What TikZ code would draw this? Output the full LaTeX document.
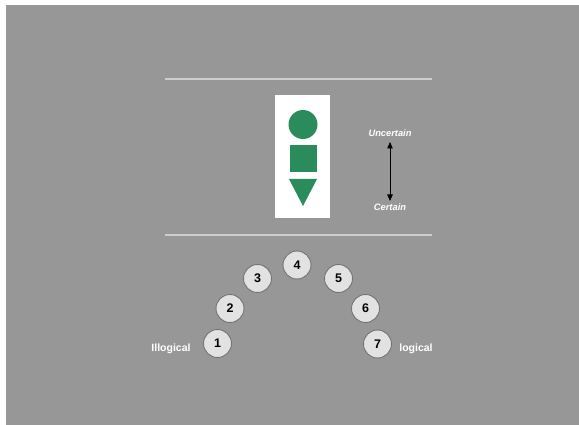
\documentclass[tikz,border=0pt]{standalone}
\usepackage{fontspec}
\setmainfont{Liberation Sans}
\usetikzlibrary{arrows.meta}
\definecolor{bggray}{RGB}{151,151,151}
\definecolor{rulegray}{RGB}{205,205,205}
\definecolor{shapegreen}{RGB}{42,140,90}
\definecolor{ballfill}{RGB}{226,226,226}
\definecolor{ballline}{RGB}{115,115,115}
\tikzset{
  ball/.style={circle,draw=ballline,line width=0.9pt,fill=ballfill,minimum size=28pt,inner sep=0pt,
    font=\fontsize{12.5}{13}\selectfont\bfseries,text=black},
  sidelabel/.style={font=\fontsize{10.5}{11}\selectfont\bfseries,text=white,inner sep=0pt},
  scalelabel/.style={font=\fontsize{9.3}{10}\selectfont\bfseries\itshape,text=white,inner sep=0pt},
  hrule/.style={draw=rulegray,line width=1.6pt},
  greenshape/.style={fill=shapegreen,draw=none}
}
\begin{document}
\begin{tikzpicture}[x=1pt,y=-1pt]
\useasboundingbox (0,0) rectangle (579,425);
\fill[white] (0,0) rectangle (579,425);
\fill[bggray] (6,5) rectangle (579,425);
% rules
\coordinate (t1) at (165,79); \coordinate (t2) at (432,79);
\coordinate (b1) at (165,235); \coordinate (b2) at (432,235);
\draw[hrule] (t1) -- (t2);
\draw[hrule] (b1) -- (b2);
% white panel with shapes
\fill[white] (275,95) rectangle (330,218);
\fill[greenshape] (303,124.5) circle (14.5);
\fill[greenshape] (289.5,145) rectangle (316.5,172);
\fill[greenshape] (289,179) -- (317,179) -- (303,206) -- cycle;
% scale arrow
\node[scalelabel] (unc) at (390,133) {Uncertain};
\node[scalelabel] (cer) at (390,207) {Certain};
\coordinate (atop) at (390,142);
\coordinate (abot) at (390,201);
\draw[black,line width=0.8pt,{Triangle[length=6.5pt,width=5.5pt]}-{Triangle[length=6.5pt,width=5.5pt]}] (atop) -- (abot);
% balls
\node[ball] (n1) at (217.5,343.5) {1};
\node[ball] (n2) at (230,308.5) {2};
\node[ball] (n3) at (257.5,278.5) {3};
\node[ball] (n4) at (297,265) {4};
\node[ball] (n5) at (338.5,278.5) {5};
\node[ball] (n6) at (365.5,308.5) {6};
\node[ball] (n7) at (377.5,344) {7};
\node[sidelabel] (ill) at (171,348.5) {Illogical};
\node[sidelabel] (log) at (416,349) {logical};
\end{tikzpicture}
\end{document}
